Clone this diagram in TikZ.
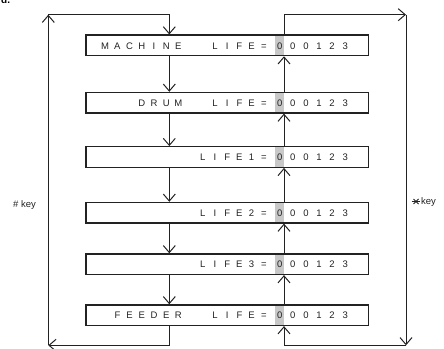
\documentclass[tikz,border=0pt]{standalone}
\usepackage{fontspec}
\setmainfont{Liberation Sans}
\usetikzlibrary{arrows.meta}
\newlength\cw
\def\spc#1#2{\setlength\cw{#1}\expandafter\spcloop#2\relax}
\def\spcloop#1{\ifx#1\relax\else\ifx#1.\makebox[\cw]{}\else\makebox[\cw][c]{#1}\fi\expandafter\spcloop\fi}
\definecolor{ink}{HTML}{222222}
\definecolor{hlgray}{HTML}{C8C8C8}
\tikzset{
  lifebox/.style={draw=ink, line width=1.2pt, minimum width=282.3pt, minimum height=20.6pt, inner sep=0pt},
  hlbox/.style={fill=hlgray, minimum width=8.4pt, minimum height=20.6pt, inner sep=0pt},
  lbl/.style={inner sep=0pt, text=ink, font=\fontsize{9.5}{10}\selectfont},
  keylbl/.style={inner sep=0pt, text=ink, font=\fontsize{9.5}{10}\selectfont},
  arr/.style={draw=ink, line width=1pt, -{Straight Barb[length=7pt,width=12pt,line width=1pt]}},
}
\begin{document}
\begin{tikzpicture}[x=1pt,y=-1pt]
\useasboundingbox (0,0) rectangle (444,348);
\clip (0,0) rectangle (444,348);
\node[anchor=base west, inner sep=0pt, font=\bfseries\fontsize{10}{10}\selectfont] (dd) at (1,3.5) {d.};
\coordinate (L) at (169.3,0);
\coordinate (R) at (284,0);
\coordinate (TL) at (48.3,14.7);
\coordinate (TR) at (406,14.7);
\coordinate (BL) at (48.3,345.3);
\coordinate (BR) at (406,345.3);
% boxes
\foreach \i/\y/\t in {1/45.35/{MACHINE..LIFE=},2/102.7/{DRUM..LIFE=},3/157/{LIFE1=},4/212.7/{LIFE2=},5/264.2/{LIFE3=},6/315.2/{FEEDER..LIFE=}}{
  \node[hlbox] (h\i) at (279.5,\y) {};
  \node[lifebox] (b\i) at (227.15,\y) {};
  \node[lbl, anchor=base east] (t\i) at (270.1,\y+3.7) {\spc{12.2pt}{\t}};
  \node[lbl, anchor=base west] (d\i) at (272.95,\y+3.7) {\spc{13.1pt}{000123}};
}
% downward chain
\foreach \a/\b in {1/2,2/3,3/4,4/5,5/6}{
  \draw[arr] (b\a.south -| L) -- (b\b.north -| L);
  \draw[arr] (b\b.north -| R) -- (b\a.south -| R);
}
% left loop
\draw[arr] (b6.south -| L) |- (BL);
\draw[arr] (BL) -- (TL);
\draw[arr] (TL) -| (b1.north -| L);
% right loop
\draw[arr] (b1.north -| R) |- (TR);
\draw[arr] (TR) -- (BR);
\draw[arr] (BR) -| (b6.south -| R);
% key labels
\node[keylbl, anchor=base west] (kl) at (13,207) {\# key};
\node[keylbl, anchor=base west] (kr) at (421,204.5) {key};
\draw[ink, line width=0.8pt] (411.5,201.5) -- (420,201.5);
\draw[ink, line width=0.8pt] (413.5,199) -- (418.5,204);
\draw[ink, line width=0.8pt] (413.5,204) -- (418.5,199);
\end{tikzpicture}
\end{document}
